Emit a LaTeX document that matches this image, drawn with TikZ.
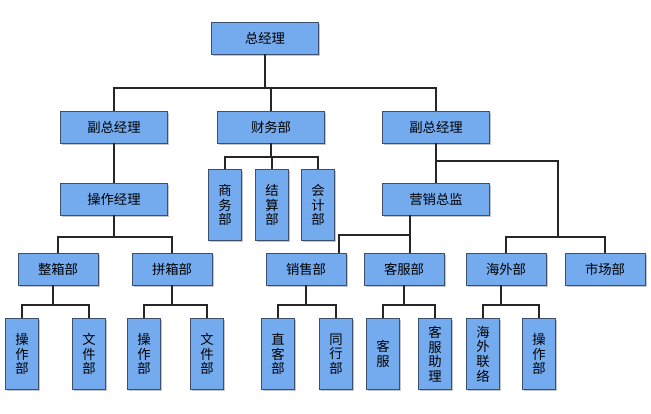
\documentclass[tikz,border=0pt]{standalone}
\usepackage{fontspec}
\newfontfamily\cjk{Noto Sans CJK SC}
\usetikzlibrary{shadows}
\definecolor{boxblue}{RGB}{116,170,238}
\definecolor{boxline}{RGB}{60,80,110}
\tikzset{
  box/.style={draw=boxline, fill=boxblue, thin, font=\cjk\fontsize{10}{11}\selectfont,
    inner sep=0pt, drop shadow={shadow xshift=1.2pt, shadow yshift=-1.2pt, fill=black!45}},
  wide/.style={box, minimum width=80pt, minimum height=24pt},
  mid/.style={box, minimum width=60pt, minimum height=24pt},
  tall/.style={box, minimum width=25pt, minimum height=53pt, align=center},
  link/.style={draw=black!85, line width=1.3pt}
}
\begin{document}
\begin{tikzpicture}[x=0.75pt,y=-0.75pt]
  \useasboundingbox (0,0) rectangle (651,414);

  % top levels
  \node[wide] (gm) at (265,38) {总经理};
  \node[wide] (vpA) at (114,127) {副总经理};
  \node[wide] (fin) at (271,127) {财务部};
  \node[wide] (vpB) at (436,127) {副总经理};
  \node[wide] (ops) at (114,199) {操作经理};
  \node[wide] (mkt) at (436,199) {营销总监};

  % finance sub units
  \node[tall] (biz) at (225,205) {商\\务\\部};
  \node[tall] (stl) at (272,205) {结\\算\\部};
  \node[tall] (acc) at (318,205) {会\\计\\部};

  % departments
  \node[mid] (fcl) at (58,269) {整箱部};
  \node[mid] (lcl) at (172,269) {拼箱部};
  \node[mid] (sal) at (306,269) {销售部};
  \node[mid] (svc) at (404,269) {客服部};
  \node[mid] (ovs) at (506,269) {海外部};
  \node[mid] (mar) at (605,269) {市场部};

  % bottom row
  \node[tall] (opA) at (22,354) {操\\作\\部};
  \node[tall] (doA) at (89,354) {文\\件\\部};
  \node[tall] (opB) at (144,354) {操\\作\\部};
  \node[tall] (doB) at (207,354) {文\\件\\部};
  \node[tall] (dir) at (278,354) {直\\客\\部};
  \node[tall] (peer) at (336,354) {同\\行\\部};
  \node[tall] (cs) at (383,354) {客\\服};
  \node[tall] (csa) at (435,354) {客\\服\\助\\理};
  \node[tall] (ovl) at (483,354) {海\\外\\联\\络};
  \node[tall] (opC) at (539,354) {操\\作\\部};

  % junctions
  \coordinate (jB) at (558,161);
  \coordinate (jM) at (410,235);

  % connectors
  \draw[link] (gm.south) -- (gm.south |- 0,88) -| (vpA.north);
  \draw[link] (gm.south |- 0,88) -| (vpB.north);
  \draw[link] (gm.south |- 0,88) -| (fin.north);
  \draw[link] (vpA) -- (ops);
  \draw[link] (fin.south) -- (fin.south |- 0,157) -| (biz.north);
  \draw[link] (fin.south |- 0,157) -| (acc.north);
  \draw[link] (fin.south |- 0,157) -| (stl.north);
  \draw[link] (vpB) -- (mkt);
  \draw[link] (vpB.south |- jB) -- (jB) -- (jB |- 0,237) -| (ovs.north);
  \draw[link] (jB |- 0,237) -| (mar.north);
  \draw[link] (jM |- mkt.south) -- (jM) -| ([xshift=25pt]sal.north);
  \draw[link] (jM) -- (jM |- svc.north);
  \draw[link] (ops.south) -- (ops.south |- 0,237) -| (fcl.north);
  \draw[link] (ops.south |- 0,237) -| (lcl.north);
  \draw[link] ([xshift=-4pt]fcl.south) -- ([xshift=-4pt]fcl.south |- 0,305) -| (opA.north);
  \draw[link] ([xshift=-4pt]fcl.south |- 0,305) -| (doA.north);
  \draw[link] (lcl.south) -- (lcl.south |- 0,305) -| (opB.north);
  \draw[link] (lcl.south |- 0,305) -| (doB.north);
  \draw[link] (sal.south) -- (sal.south |- 0,305) -| (dir.north);
  \draw[link] (sal.south |- 0,305) -| (peer.north);
  \draw[link] (svc.south) -- (svc.south |- 0,305) -| (cs.north);
  \draw[link] (svc.south |- 0,305) -| (csa.north);
  \draw[link] ([xshift=-4pt]ovs.south) -- ([xshift=-4pt]ovs.south |- 0,305) -| (ovl.north);
  \draw[link] ([xshift=-4pt]ovs.south |- 0,305) -| (opC.north);
\end{tikzpicture}
\end{document}
